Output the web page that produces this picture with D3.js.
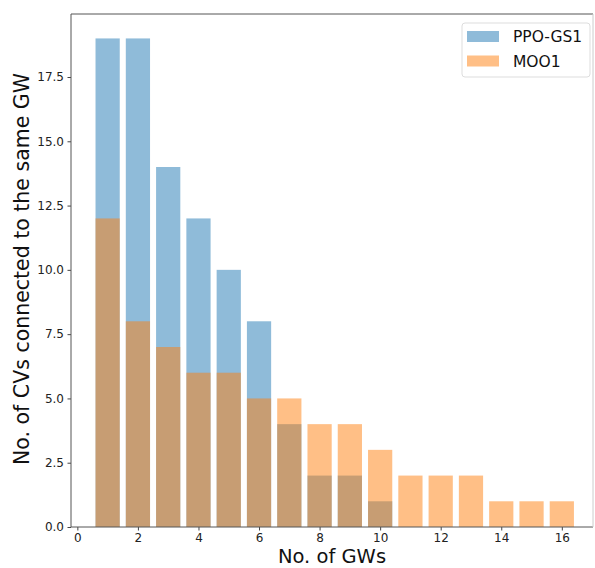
<!DOCTYPE html>
<html>
<head>
<meta charset="utf-8">
<script src="https://cdn.jsdelivr.net/npm/d3@7"></script>
<style>
  body { margin: 0; background: #fff; }
  text { font-family: "DejaVu Sans", sans-serif; }
</style>
</head>
<body>
<svg id="chart" width="595" height="568"></svg>
<script>
// values
const gwsPPO = [1, 2, 3, 4, 5, 6, 7, 8, 9, 10];
const ppoCounts = [19, 19, 14, 12, 10, 8, 4, 2, 2, 1];
const gwsMOO = [1, 2, 3, 4, 5, 6, 7, 8, 9, 10, 11, 12, 13, 14, 15, 16];
const mooCounts = [12, 8, 7, 6, 6, 5, 5, 4, 4, 3, 2, 2, 2, 1, 1, 1];
const xTicks = [0, 2, 4, 6, 8, 10, 12, 14, 16];
const yTicks = [0, 2.5, 5, 7.5, 10, 12.5, 15, 17.5];
const seriesNames = ["PPO-GS1", "MOO1"];
const seriesColors = ["#1f77b4", "#ff7f0e"];

const svg = d3.select("#chart");
const plotLeft = 71, plotRight = 593, plotTop = 14, plotBottom = 527;

const x = d3.scaleLinear().domain([-0.21, 17.03]).range([plotLeft, plotRight]);
const y = d3.scaleLinear().domain([0, 19.95]).range([plotBottom, plotTop]);
const barW = 0.8;

// Bars (blue first, orange over it)
const series = [
    { name: seriesNames[0], xs: gwsPPO, ys: ppoCounts, color: seriesColors[0] },
    { name: seriesNames[1], xs: gwsMOO, ys: mooCounts, color: seriesColors[1] }
];

series.forEach(s => {
    svg.append("g")
        .selectAll("rect")
        .data(s.xs.map((v, i) => ({ gw: v, n: s.ys[i] })))
        .enter().append("rect")
        .attr("x", d => x(d.gw - barW / 2))
        .attr("width", d => x(d.gw + barW / 2) - x(d.gw - barW / 2))
        .attr("y", d => y(d.n))
        .attr("height", d => y(0) - y(d.n))
        .attr("fill", s.color)
        .attr("fill-opacity", 0.5);
});

// Axes
const xAxis = svg.append("g")
    .attr("transform", `translate(0,${plotBottom})`)
    .call(d3.axisBottom(x).tickValues(xTicks).tickSize(3.5).tickPadding(2.5).tickFormat(d3.format("d")));
const yAxis = svg.append("g")
    .attr("transform", `translate(${plotLeft},0)`)
    .call(d3.axisLeft(y).tickValues(yTicks).tickSize(3.5).tickPadding(3.5).tickFormat(d3.format(".1f")));

[xAxis, yAxis].forEach(a => {
    a.select(".domain").remove();
    a.selectAll(".tick line").attr("stroke", "#444");
    a.selectAll(".tick text").attr("fill", "#222").style("font-size", "12px")
        .style("font-family", "DejaVu Sans, sans-serif");
});

// Spines
svg.append("line").attr("x1", plotLeft).attr("x2", plotRight).attr("y1", plotTop).attr("y2", plotTop)
    .attr("stroke", "#555").attr("stroke-width", 1);
svg.append("line").attr("x1", plotLeft).attr("x2", plotRight).attr("y1", plotBottom).attr("y2", plotBottom)
    .attr("stroke", "#555").attr("stroke-width", 1);
svg.append("line").attr("x1", plotLeft).attr("x2", plotLeft).attr("y1", plotTop).attr("y2", plotBottom)
    .attr("stroke", "#555").attr("stroke-width", 1);
svg.append("line").attr("x1", plotRight).attr("x2", plotRight).attr("y1", plotTop).attr("y2", plotBottom)
    .attr("stroke", "#ccc").attr("stroke-width", 1);

// Axis labels
svg.append("text")
    .attr("x", (plotLeft + plotRight) / 2)
    .attr("y", 563)
    .attr("text-anchor", "middle")
    .attr("fill", "#111")
    .style("font-size", "19.5px")
    .text("No. of GWs");

svg.append("text")
    .attr("transform", `translate(29,269) rotate(-90)`)
    .attr("text-anchor", "middle")
    .attr("fill", "#111")
    .style("font-size", "20.5px")
    .text("No. of CVs connected to the same GW");

// Legend
const legend = svg.append("g").attr("transform", "translate(462,23)");
legend.append("rect")
    .attr("width", 128).attr("height", 54)
    .attr("rx", 3)
    .attr("fill", "#fff").attr("fill-opacity", 0.8)
    .attr("stroke", "#ddd");

series.forEach((s, i) => {
    const row = legend.append("g").attr("transform", `translate(5,${8 + i * 24.5})`);
    row.append("rect")
        .attr("width", 32).attr("height", 11)
        .attr("fill", s.color).attr("fill-opacity", 0.5);
    row.append("text")
        .attr("x", 46).attr("y", 11)
        .attr("fill", "#111")
        .style("font-size", "15.5px")
        .text(s.name);
});
</script>
</body>
</html>
